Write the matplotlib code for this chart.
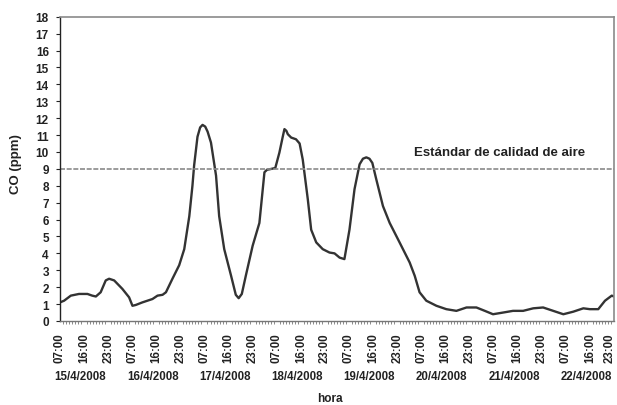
import matplotlib
matplotlib.use("Agg")
import matplotlib.pyplot as plt
import matplotlib.transforms as mtransforms
from matplotlib.ticker import MultipleLocator

plt.rcParams['font.family'] = ['Liberation Sans', 'DejaVu Sans']
plt.rcParams['font.weight'] = 'bold'

# Hourly-label positions (one unit per tick label) and CO concentration (ppm)
position = [0.00, 0.17, 0.45, 0.79, 1.14, 1.34, 1.49, 1.69, 1.90, 2.04, 2.25, 2.59,
            2.87, 3.01, 3.15, 3.42, 3.84, 4.05, 4.26, 4.40, 4.67, 4.95, 5.16, 5.37,
            5.50, 5.57, 5.71, 5.82, 5.92, 6.03, 6.13, 6.27, 6.48, 6.61, 6.82, 7.10,
            7.30, 7.42, 7.55, 7.72, 8.00, 8.28, 8.49, 8.60, 8.69, 8.94, 9.11, 9.25,
            9.32, 9.40, 9.46, 9.60, 9.80, 9.95, 10.08, 10.29, 10.43, 10.64, 10.91,
            11.19, 11.40, 11.61, 11.81, 12.02, 12.23, 12.44, 12.58, 12.72, 12.85,
            12.97, 13.13, 13.41, 13.69, 14.10, 14.52, 14.73, 14.93, 15.21, 15.63,
            16.04, 16.46, 16.88, 17.29, 17.64, 17.98, 18.40, 18.81, 19.23, 19.65, 20.06,
            20.48, 20.90, 21.31, 21.73, 22.00, 22.35, 22.63, 22.91, 23.00]
co_ppm = [1.10, 1.20, 1.50, 1.60, 1.60, 1.50, 1.45, 1.70, 2.40, 2.50, 2.40, 1.90,
          1.40, 0.90, 0.95, 1.10, 1.30, 1.50, 1.55, 1.70, 2.50, 3.30, 4.25, 6.20,
          8.00, 9.20, 10.90, 11.45, 11.60, 11.50, 11.20, 10.55, 8.60, 6.20, 4.25, 2.70,
          1.55, 1.35, 1.60, 2.70, 4.45, 5.80, 8.80, 8.95, 8.97, 9.05, 9.96, 10.90,
          11.35, 11.25, 11.05, 10.85, 10.75, 10.50, 9.55, 7.20, 5.40, 4.65, 4.25,
          4.05, 4.00, 3.75, 3.66, 5.40, 7.80, 9.27, 9.60, 9.68, 9.60,
          9.35, 8.40, 6.80, 5.80, 4.65, 3.46, 2.67, 1.70, 1.20, 0.90,
          0.70, 0.60, 0.80, 0.80, 0.60, 0.40, 0.50, 0.60, 0.60, 0.75, 0.80,
          0.60, 0.40, 0.55, 0.75, 0.70, 0.70, 1.20, 1.50, 1.45]

hour_labels = ["07:00", "16:00", "23:00"] * 8
dates = ["15/4/2008", "16/4/2008", "17/4/2008", "18/4/2008",
         "19/4/2008", "20/4/2008", "21/4/2008", "22/4/2008"]
standard = 9
standard_label = "Estándar de calidad de aire"

fig = plt.figure(figsize=(6.17, 4.06), dpi=100)
ax = fig.add_axes([0.0972, 0.2069, 0.8978, 0.7495])

ax.plot(position, co_ppm, color='#333333', lw=1.7, solid_capstyle='round',
        solid_joinstyle='round')
ax.axhline(standard, color='#8a8a8a', lw=1.2, ls=(0, (3, 1)))
ax.text(14.7, 10.0, standard_label, fontsize=9.5, fontweight='bold',
        va='center', ha='left', color='#222222')

ax.set_xlim(0, 23)
ax.set_ylim(0, 18)
ax.yaxis.set_major_locator(MultipleLocator(1))
ax.tick_params(axis='y', direction='out', length=3, width=0.8, pad=5,
               labelsize=8.5, colors='#222222')

ax.set_xticks(range(len(hour_labels)))
ax.set_xticklabels(hour_labels, rotation=90, fontsize=8.3, fontweight='bold',
                   color='#222222')
ax.tick_params(axis='x', length=0, pad=8)
ax.xaxis.set_minor_locator(MultipleLocator(0.125))
ax.tick_params(axis='x', which='minor', length=2, width=0.6, color='#777777',
               direction='out')
# keep the last hour label inside the figure edge
last = ax.get_xticklabels()[-1]
last.set_transform(last.get_transform() +
                   mtransforms.ScaledTranslation(-3 / 72, 0, fig.dpi_scale_trans))

for k, d in enumerate(dates):
    ax.text(3 * k + 0.85, -0.18, d, transform=ax.get_xaxis_transform(),
            ha='center', va='center', fontsize=8.3, fontweight='bold',
            color='#222222')

ax.set_ylabel("CO (ppm)", fontsize=9.5, fontweight='bold', color='#222222')
ax.yaxis.set_label_coords(-0.069, 0.52)
fig.text(0.535, 0.003, "hora", ha='center', va='bottom', fontsize=8.5,
         fontweight='bold', color='#222222')

ax.spines['left'].set_color('#222222')
ax.spines['left'].set_linewidth(1.0)
ax.spines['bottom'].set_color('#777777')
ax.spines['bottom'].set_linewidth(1.0)
for side in ('top', 'right'):
    ax.spines[side].set_color('#8a8a8a')
    ax.spines[side].set_linewidth(1.2)
    ax.spines[side].set_linestyle((0, (3, 1)))

fig.savefig("out.png", dpi=100)
